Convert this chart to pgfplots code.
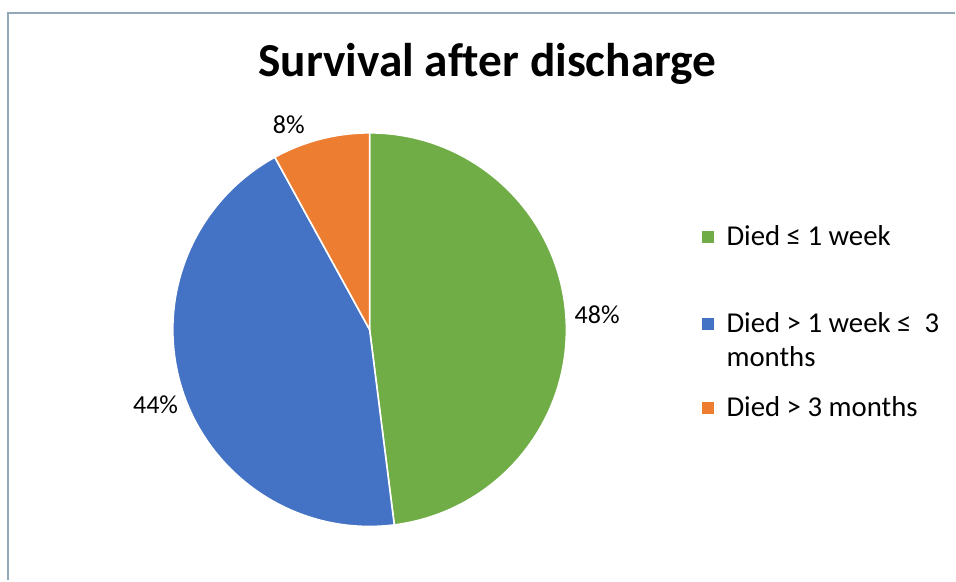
\documentclass[border=0pt]{standalone}
\usepackage{pgfplots}
\usepackage{pgfplotstable}
\pgfplotsset{compat=1.18}
\usepackage{fontspec}
\setmainfont[Ligatures=NoCommon]{Carlito}

\definecolor{cgreen}{HTML}{70AD47}
\definecolor{cblue}{HTML}{4472C4}
\definecolor{corange}{HTML}{ED7D31}
\definecolor{frame}{HTML}{93A9B5}

\tikzset{
    lbl/.style={anchor=base west, inner sep=0pt, font=\fontsize{19.5}{22}\selectfont},
    leg/.style={anchor=base west, inner sep=0pt, font=\fontsize{21.6}{25}\selectfont},
}

% share of patients, per cent
\pgfplotstableread{
group pct
0 48
1 44
2 8
}\survival

\begin{document}
\begin{tikzpicture}
\pgfplotstablegetelem{0}{pct}\of\survival \let\pA\pgfplotsretval
\pgfplotstablegetelem{1}{pct}\of\survival \let\pB\pgfplotsretval
\pgfplotstablegetelem{2}{pct}\of\survival \let\pC\pgfplotsretval
% slice edges, clockwise from 12 o'clock
\pgfmathsetmacro\aA{90-3.6*\pA}
\pgfmathsetmacro\aB{\aA-3.6*\pB}
\pgfmathsetmacro\aC{\aB-3.6*\pC}
\def\R{147.75pt}
\begin{axis}[
    width=717pt, height=435.75pt,
    scale only axis,
    xmin=0, xmax=956, ymin=0, ymax=581,
    y dir=reverse,
    hide axis,
    clip=false,
    ]
    \fill[white] (axis cs:0,0) rectangle (axis cs:956,581);
    \draw[frame, line width=1.5pt] (axis cs:8,581) -- (axis cs:8,13) -- (axis cs:956,13);

    \node[anchor=base, font=\bfseries\fontsize{35.5}{42}\selectfont]
        at (axis cs:488,77) {Survival after discharge};

    % slices
    \filldraw[cgreen, draw=white, line width=1.2pt] (axis cs:370,330) -- ++(90:\R)
        arc[start angle=90, end angle=\aA, radius=\R] -- cycle;
    \filldraw[cblue, draw=white, line width=1.2pt] (axis cs:370,330) -- ++(\aA:\R)
        arc[start angle=\aA, end angle=\aB, radius=\R] -- cycle;
    \filldraw[corange, draw=white, line width=1.2pt] (axis cs:370,330) -- ++(\aB:\R)
        arc[start angle=\aB, end angle=\aC, radius=\R] -- cycle;

    % data labels
    \node[lbl] at (axis cs:575,324) {\pA\%};
    \node[lbl] at (axis cs:133,414) {\pB\%};
    \node[lbl] at (axis cs:273,134) {\pC\%};

    % legend
    \fill[cgreen]  (axis cs:703,231) rectangle (axis cs:715,243);
    \fill[cblue]   (axis cs:703,318) rectangle (axis cs:715,330);
    \fill[corange] (axis cs:703,402) rectangle (axis cs:715,414);
    \node[leg] at (axis cs:727,246) {Died ≤ 1 week};
    \node[leg] at (axis cs:727,333) {Died > 1 week ≤~ 3};
    \node[leg] at (axis cs:727,367) {months};
    \node[leg] at (axis cs:727,417) {Died > 3 months};
\end{axis}
\end{tikzpicture}
\end{document}
